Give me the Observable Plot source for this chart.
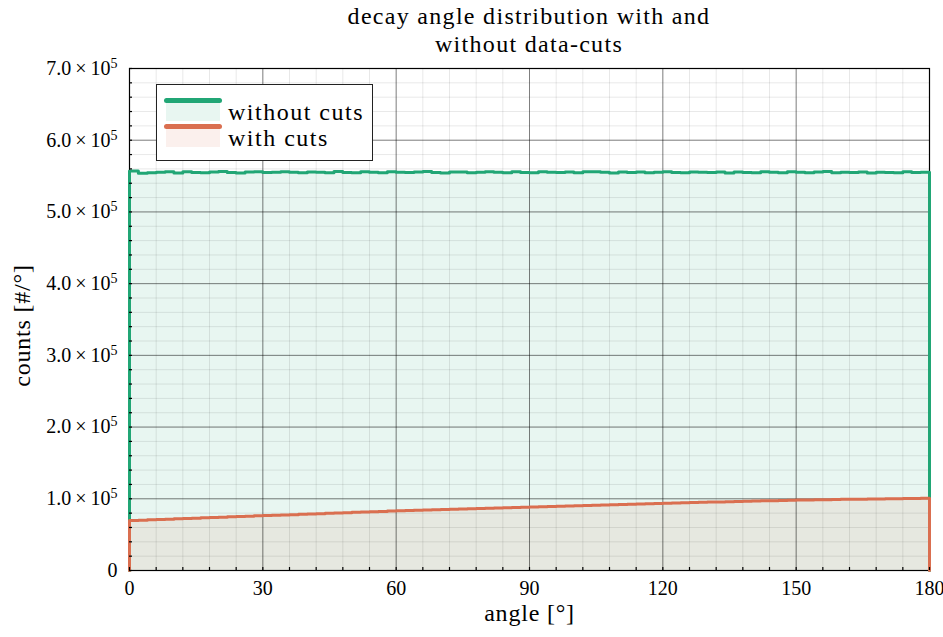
<!DOCTYPE html>
<html>
<head>
<meta charset="utf-8">
<script src="https://cdn.jsdelivr.net/npm/d3@7"></script>
<script src="https://cdn.jsdelivr.net/npm/@observablehq/plot@0.6"></script>
<style>
  html, body { margin: 0; padding: 0; background: #fff; }
  #wrap { position: relative; width: 943px; height: 637px; font-family: "Liberation Serif", serif; color: #000; }
  #title { position: absolute; left: 129px; width: 800px; top: 2px; text-align: center; font-size: 24px; line-height: 28px; letter-spacing: 1.3px; }
  #legend { position: absolute; left: 156px; top: 84px; width: 215px; height: 75px; border: 1.3px solid #222; background: #fff; }
  .sw { position: absolute; left: 7px; width: 58px; }
  .ln { position: absolute; left: 0; width: 58px; height: 5px; border-radius: 3px; }
  .pt { position: absolute; left: 2px; width: 54px; height: 21px; }
  .lt { position: absolute; left: 71px; font-size: 24px; line-height: 24px; letter-spacing: 1.5px; white-space: nowrap; }
</style>
</head>
<body>
<div id="wrap">
  <div id="chart"></div>
  <div id="title">decay angle distribution with and<br>without data-cuts</div>
  <div id="legend"></div>
</div>
<script>
// ---- data ----
const binWidth = 2; // degrees
const seriesNames = ["without cuts", "with cuts"];
const seriesColors = ["#21a675", "#da6f50"];
const withoutCuts = [
  557000, 553800, 554600, 555200, 555900, 554300, 556100, 555000, 554800, 555600,
  556300, 555100, 554200, 555700, 556000, 554900, 555300, 556200, 555400, 554700,
  555800, 555200, 554500, 556400, 555000, 554600, 555900, 555300, 554800, 556100,
  555500, 554900, 555700, 556300, 555000, 554400, 555600, 555800, 554700, 555200,
  556000, 555400, 554600, 555900, 555100, 554800, 556200, 555300, 555000, 555700,
  554500, 555900, 556100, 555200, 554300, 555600, 555000, 555800, 554700, 555400,
  556200, 555100, 554600, 555700, 555300, 554900, 555800, 554400, 555600, 555100,
  554700, 555900, 555300, 554500, 556000, 555200, 554800, 555700, 556300, 554600,
  555400, 555000, 555800, 554300, 555500, 555100, 554700, 555900, 554900, 555400
];
const withCuts = [
  69800, 70200, 70700, 71100, 71600, 72100, 72500, 72900, 73500, 73800,
  74300, 74800, 75200, 75600, 76200, 76600, 77000, 77500, 77900, 78500,
  78800, 79300, 79800, 80200, 80600, 81200, 81500, 82000, 82400, 83000,
  83400, 83700, 84100, 84400, 84800, 85100, 85500, 85800, 86100, 86500,
  86900, 87100, 87600, 87900, 88200, 88600, 88900, 89300, 89600, 90000,
  90400, 90700, 91000, 91400, 91800, 92100, 92400, 92900, 93100, 93500,
  93800, 94100, 94400, 94800, 95100, 95400, 95600, 96000, 96300, 96500,
  96900, 97100, 97400, 97700, 98000, 98200, 98400, 98600, 98800, 99000,
  99200, 99300, 99500, 99700, 99800, 100000, 100200, 100300, 100500, 100700
];
const xMajor = [0, 30, 60, 90, 120, 150, 180];
const xMinor = d3.range(0, 181, 6);
const yMajor = [0, 100000, 200000, 300000, 400000, 500000, 600000, 700000];
const yMinor = d3.range(0, 700001, 20000);
const xLabel = "angle [°]";
const yLabel = "counts [#/°]";

function stepPoints(vals) {
  const pts = [{x: 0, y: 0}];
  vals.forEach((v, i) => pts.push({x: i * binWidth, y: v}));
  pts.push({x: vals.length * binWidth, y: vals[vals.length - 1]});
  pts.push({x: vals.length * binWidth, y: 0});
  return pts;
}
const greenPts = stepPoints(withoutCuts);
const orangePts = stepPoints(withCuts);

const fmtY = d => d === 0 ? "0" : `${(d / 1e5).toFixed(1)}\u2009×\u200910^5`;

const plot = Plot.plot({
  width: 943,
  height: 637,
  marginLeft: 129,
  marginRight: 14,
  marginTop: 68,
  marginBottom: 67,
  style: {fontFamily: "Liberation Serif, serif", fontSize: "20px", color: "#000", background: "#fff", overflow: "visible"},
  x: {domain: [0, 180]},
  y: {domain: [0, 700000]},
  marks: [
    Plot.areaY(greenPts, {x: "x", y: "y", curve: "step-after", fill: seriesColors[0], fillOpacity: 0.1}),
    Plot.areaY(orangePts, {x: "x", y: "y", curve: "step-after", fill: seriesColors[1], fillOpacity: 0.1}),
    Plot.ruleX(xMinor, {stroke: "#000", strokeOpacity: 0.09, strokeWidth: 1}),
    Plot.ruleY(yMinor, {stroke: "#000", strokeOpacity: 0.09, strokeWidth: 1}),
    Plot.ruleX(xMajor, {stroke: "#000", strokeOpacity: 0.45, strokeWidth: 1}),
    Plot.ruleY(yMajor, {stroke: "#000", strokeOpacity: 0.45, strokeWidth: 1}),
    Plot.frame({stroke: "#000", strokeWidth: 1.2}),
    Plot.line(greenPts, {x: "x", y: "y", curve: "step-after", stroke: seriesColors[0], strokeWidth: 3}),
    Plot.line(orangePts, {x: "x", y: "y", curve: "step-after", stroke: seriesColors[1], strokeWidth: 3}),
    Plot.tickX(xMinor, {x: d => d, insetTop: 499, stroke: "#000", strokeWidth: 1.2}),
    Plot.tickY(yMinor, {y: d => d, insetRight: 797, stroke: "#000", strokeWidth: 1.2}),
    Plot.axisX(xMajor, {tickSize: 0, tickPadding: 10, fontSize: 20, label: null}),
    Plot.axisY(yMajor, {tickSize: 0, tickPadding: 12, fontSize: 20, label: null, tickFormat: fmtY}),
    Plot.text([xLabel], {frameAnchor: "bottom", dy: 50, fontSize: 24}),
    Plot.text([yLabel], {frameAnchor: "left", textAnchor: "middle", dx: -107, dy: 6, rotate: -90, fontSize: 24})
  ]
});
document.getElementById("chart").appendChild(plot);

// superscript exponents on the y tick labels; letter spacing for axis labels
plot.querySelectorAll("text").forEach(t => {
  const s = t.textContent;
  const m = s.match(/^(.*10)\^(\d+)$/);
  if (m) {
    t.textContent = "";
    const ns = "http://www.w3.org/2000/svg";
    const a = document.createElementNS(ns, "tspan");
    a.textContent = m[1];
    const b = document.createElementNS(ns, "tspan");
    b.textContent = m[2];
    b.setAttribute("dy", "-0.5em");
    b.setAttribute("font-size", "14px");
    t.appendChild(a);
    t.appendChild(b);
  }
  if (s === xLabel || s === yLabel) t.style.letterSpacing = "0.8px";
});

// legend
const legend = document.getElementById("legend");
seriesNames.forEach((name, i) => {
  const top = 13 + i * 26;
  const sw = document.createElement("div");
  sw.className = "sw";
  sw.style.top = top + "px";
  sw.innerHTML = `<div class="pt" style="top:2px;background:${seriesColors[i]};opacity:0.1"></div><div class="ln" style="top:0;background:${seriesColors[i]}"></div>`;
  legend.appendChild(sw);
  const lt = document.createElement("div");
  lt.className = "lt";
  lt.style.top = (top + 2) + "px";
  lt.textContent = name;
  legend.appendChild(lt);
});
</script>
</body>
</html>
